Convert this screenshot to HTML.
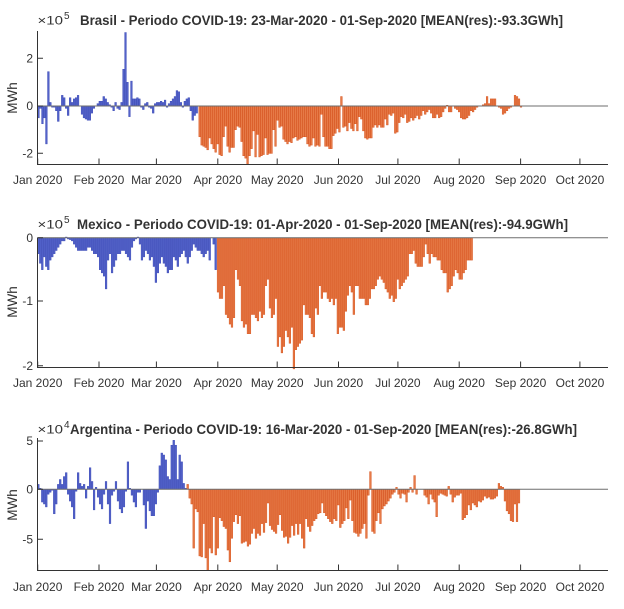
<!DOCTYPE html>
<html>
<head>
<meta charset="utf-8">
<style>
html,body{margin:0;padding:0;background:#fff;}
svg{display:block;}
text{font-family:"Liberation Sans",Arial,sans-serif;fill:#333;}
.t{font-weight:bold;font-size:13.5px;}
.tk{font-size:12px;}
.yl{font-size:13.5px;}
.ex{font-size:12px;}
.sp{font-size:10px;}
.ax{stroke:#333;stroke-width:1;fill:none;}
.zl{stroke:#6e6e6e;stroke-width:1;}
</style>
</head>
<body>
<svg id="s" width="624" height="609" viewBox="0 0 624 609" xmlns="http://www.w3.org/2000/svg">
<rect width="624" height="609" fill="#fff"/>
<g id="bars"></g>

<!-- Chart 1 -->
<line class="zl" x1="37.5" y1="106" x2="608" y2="106"/>
<path class="ax" d="M37.5,31 V164.5 H608"/>
<g class="ax" id="tk1"></g>
<text class="t" x="80" y="25" textLength="483" lengthAdjust="spacingAndGlyphs">Brasil - Periodo COVID-19: 23-Mar-2020 - 01-Sep-2020 [MEAN(res):-93.3GWh]</text>
<text class="ex" x="37.5" y="24.5" textLength="25.5" lengthAdjust="spacingAndGlyphs">×10</text><text class="sp" x="64" y="19">5</text>
<text class="tk" x="33" y="62.5" text-anchor="end">2</text>
<text class="tk" x="33" y="110" text-anchor="end">0</text>
<text class="tk" x="33" y="157.5" text-anchor="end">-2</text>
<text class="yl" transform="translate(17,98) rotate(-90)" text-anchor="middle">MWh</text>
<g class="tk" text-anchor="middle">
<text x="37.7" y="184">Jan 2020</text><text x="99" y="184">Feb 2020</text><text x="156.5" y="184">Mar 2020</text><text x="217.8" y="184">Apr 2020</text><text x="277.2" y="184">May 2020</text><text x="338.5" y="184">Jun 2020</text><text x="397.9" y="184">Jul 2020</text><text x="459.2" y="184">Aug 2020</text><text x="520.6" y="184">Sep 2020</text><text x="580" y="184">Oct 2020</text>
</g>

<!-- Chart 2 -->
<line class="zl" x1="37.5" y1="237.7" x2="608" y2="237.7"/>
<path class="ax" d="M37.5,237.7 V367.5 H608"/>
<g class="ax" id="tk2"></g>
<text class="t" x="77" y="229" textLength="491" lengthAdjust="spacingAndGlyphs">Mexico - Periodo COVID-19: 01-Apr-2020 - 01-Sep-2020 [MEAN(res):-94.9GWh]</text>
<text class="ex" x="37.5" y="228.5" textLength="25.5" lengthAdjust="spacingAndGlyphs">×10</text><text class="sp" x="64" y="223">5</text>
<text class="tk" x="33" y="242" text-anchor="end">0</text>
<text class="tk" x="33" y="305" text-anchor="end">-1</text>
<text class="tk" x="33" y="370" text-anchor="end">-2</text>
<text class="yl" transform="translate(17,302) rotate(-90)" text-anchor="middle">MWh</text>
<g class="tk" text-anchor="middle">
<text x="37.7" y="387">Jan 2020</text><text x="99" y="387">Feb 2020</text><text x="156.5" y="387">Mar 2020</text><text x="217.8" y="387">Apr 2020</text><text x="277.2" y="387">May 2020</text><text x="338.5" y="387">Jun 2020</text><text x="397.9" y="387">Jul 2020</text><text x="459.2" y="387">Aug 2020</text><text x="520.6" y="387">Sep 2020</text><text x="580" y="387">Oct 2020</text>
</g>

<!-- Chart 3 -->
<line class="zl" x1="37.5" y1="489.3" x2="608" y2="489.3"/>
<path class="ax" d="M37.5,438 V570.5 H608"/>
<g class="ax" id="tk3"></g>
<text class="t" x="70" y="434" textLength="507" lengthAdjust="spacingAndGlyphs">Argentina - Periodo COVID-19: 16-Mar-2020 - 01-Sep-2020 [MEAN(res):-26.8GWh]</text>
<text class="ex" x="37.5" y="433.5" textLength="25.5" lengthAdjust="spacingAndGlyphs">×10</text><text class="sp" x="64" y="428">4</text>
<text class="tk" x="33" y="445" text-anchor="end">5</text>
<text class="tk" x="33" y="493.5" text-anchor="end">0</text>
<text class="tk" x="33" y="543.5" text-anchor="end">-5</text>
<text class="yl" transform="translate(17,505) rotate(-90)" text-anchor="middle">MWh</text>
<g class="tk" text-anchor="middle">
<text x="37.7" y="591">Jan 2020</text><text x="99" y="591">Feb 2020</text><text x="156.5" y="591">Mar 2020</text><text x="217.8" y="591">Apr 2020</text><text x="277.2" y="591">May 2020</text><text x="338.5" y="591">Jun 2020</text><text x="397.9" y="591">Jul 2020</text><text x="459.2" y="591">Aug 2020</text><text x="520.6" y="591">Sep 2020</text><text x="580" y="591">Oct 2020</text>
</g>
</svg>
<script>
(function(){
var NS="http://www.w3.org/2000/svg";
var g=document.getElementById("bars");
var BLUE=["#5362c9","#3a49b6"],ORANGE=["#e67a47","#d6501a"];
function seg(x0,x1,vals,y0,sc,col){
  var n=vals.length,st=n>1?(x1-x0)/(n-1):0;
  for(var i=0;i<n;i++){
    var v=vals[i];if(!v)continue;
    var cx=x0+i*st,h=Math.abs(v)*sc,y=v>0?y0-h:y0;
    var r=document.createElementNS(NS,"rect");
    r.setAttribute("x",(cx-0.85).toFixed(2));r.setAttribute("width","1.7");
    r.setAttribute("y",y.toFixed(2));r.setAttribute("height",Math.max(h,0.3).toFixed(2));
    r.setAttribute("fill",col[0]);r.setAttribute("stroke",col[1]);r.setAttribute("stroke-width","0.45");
    g.appendChild(r);
  }
}
// Brasil
var bB=[-0.5,-0.1,-0.75,-0.5,-1.6,1.45,0.15,-0.05,-0.05,-0.2,-0.65,-0.2,0.45,0.35,-0.1,-0.4,0.35,0.15,0.3,0.35,0.45,0,-0.35,-0.5,-0.55,-0.6,-0.6,-0.3,-0.1,0,0.1,0.2,0.2,0.4,0.3,0.15,0.05,-0.05,-0.2,0.15,-0.1,-0.15,0.15,1.55,3.1,1.0,-0.45,1.05,0.3,0.3,0.35,0.3,-0.05,-0.15,0.1,0.15,-0.05,-0.1,-0.3,0.1,0.15,0.15,0.2,0.15,0.25,-0.05,0.1,0.2,0.3,0.4,0.65,0.6,0.15,-0.05,0.2,0.3,0.35,-0.2,-0.6,-0.4,-0.3];
var oB=[-1.3,-1.65,-1.7,-1.75,-1.85,-1.35,-1.6,-1.8,-1.95,-1.6,-2.05,-2.1,-1.3,-0.85,-1.7,-1.95,-1.75,-1.75,-1.0,-0.85,-0.9,-1.5,-2.1,-2.2,-2.45,-2.1,-1.8,-1.05,-2.15,-1.2,-2.15,-2.1,-2.05,-1.35,-2.05,-2.0,-2.0,-1.0,-1.7,-0.6,-0.9,-0.85,-1.4,-1.5,-1.6,-1.5,-1.55,-1.35,-1.3,-1.45,
-1.4,-1.35,-1.3,-1.3,-1.6,-1.7,-1.65,-1.35,-1.7,-1.65,-1.7,-0.35,-1.3,-1.7,-1.7,-1.8,-1.8,-1.25,-1.15,-0.95,-1.1,0.4,-0.9,-0.85,-1.05,-0.7,-0.95,-1.05,-0.75,-1.05,-0.45,-0.55,-1.05,-1.35,-1.4,-1.35,-1.35,-0.9,-0.8,-0.9,-0.8,-0.9,-0.9,-0.55,-0.8,-0.35,-0.4,-0.3,-1.15,-1.1,-0.7,-0.45,-0.5,-0.35,-0.7,-0.65,-0.5,-0.6,-0.5,-0.4,-0.55,-0.4,-0.2,-0.35,-0.25,-0.15,-0.3,-0.5,-0.5,-0.35,-0.5,-0.45,-0.25,-0.1,0.03,-0.25,-0.25,0,-0.1,-0.15,-0.25,-0.5,-0.55,-0.55,-0.5,-0.4,-0.2,-0.25,-0.15,-0.05,0,0,0.05,0.1,0.4,0.1,0.3,0.3,0.3,0,-0.05,-0.1,-0.35,-0.3,-0.2,-0.1,-0.05,0,0.45,0.4,0.3,-0.05];
seg(38.5,196.7,bB,106,23.7,BLUE);
seg(199.7,521,oB,106,23.7,ORANGE);
// Mexico
var bM=[-0.25,-0.4,-0.5,-0.3,-0.45,-0.5,-0.35,-0.3,-0.25,-0.2,-0.15,-0.1,-0.05,-0.05,0.01,-0.02,-0.03,-0.05,-0.1,-0.15,-0.2,-0.2,-0.2,-0.2,-0.2,-0.15,-0.15,-0.2,-0.25,-0.25,-0.3,-0.5,-0.55,-0.6,-0.8,-0.35,-0.25,-0.55,-0.45,-0.35,-0.25,-0.25,-0.2,-0.2,-0.25,-0.3,-0.35,-0.15,-0.05,-0.02,0.01,-0.1,-0.35,-0.3,-0.2,-0.25,-0.35,-0.3,-0.45,-0.7,-0.55,-0.4,-0.3,-0.4,-0.45,-0.55,-0.5,-0.5,-0.3,-0.35,-0.45,-0.3,-0.25,-0.2,-0.3,-0.4,-0.3,-0.2,-0.1,-0.15,-0.2,-0.2,-0.25,-0.3,-0.25,-0.2,-0.35,0,-0.1,-0.5];
var oM=[-0.85,-0.95,-0.95,-0.75,-1.2,-1.25,-1.35,-1.4,-1.25,-0.5,-0.65,-0.75,-1.3,-1.4,-1.35,-1.5,-1.5,-1.2,-1.2,-1.25,-1.3,-1.15,-1.25,-1.2,-0.75,-0.65,-1.1,-1.25,-1.2,-0.95,-1.7,-1.55,-1.8,-1.7,-1.45,-1.55,-1.65,-1.4,-2.05,-1.75,-1.7,
-1.65,-1.6,-1.05,-1.2,-1.2,-1.25,-1.5,-1.55,-1.1,-1.2,-0.75,-0.95,-0.85,-0.85,-0.95,-1.0,-0.95,-1.05,-0.95,-1.5,-1.4,-1.4,-1.45,-1.15,-0.9,-0.75,-0.85,-1.2,-0.75,-0.75,-0.95,-0.95,-0.95,-1.05,-1.05,-0.95,-0.8,-0.8,-0.75,-0.65,-0.6,-0.65,-0.7,-0.8,-0.85,-0.95,-0.9,-1.0,-0.95,-0.65,-0.8,-0.75,-0.7,-0.65,-0.6,-0.25,-0.25,-0.2,-0.4,-0.45,-0.45,-0.45,-0.3,-0.1,-0.25,-0.4,-0.25,-0.3,-0.3,-0.35,-0.35,-0.5,-0.55,-0.55,-0.85,-0.8,-0.75,-0.6,-0.5,-0.55,-0.65,-0.65,-0.55,-0.5,-0.35,-0.35,-0.35];
seg(38.3,215.7,bM,237.7,64,BLUE);
seg(218,471.7,oM,237.7,64,ORANGE);
// Argentina
var bA=[0.5,0.1,-1.3,-1.5,-1.8,-0.5,-0.3,-0.1,-2.5,-1.5,0.5,1.0,0.5,1.3,1.7,-0.5,-1.2,-1.8,-3.0,-0.2,1.7,0.6,0.3,0.5,-0.9,0.3,2.2,0.8,-2.1,0.2,-0.8,-1.5,-2.0,-0.5,0.8,-1.5,-3.5,-0.6,-0.2,0.8,-1.2,-2.0,-2.4,-1.8,-0.2,2.8,0.1,-0.6,-1.3,-1.8,-0.3,-0.3,0,-1.6,-4.0,-1.2,-2.2,-2.7,-2.7,-1.5,-0.3,2.4,3.7,3.5,3.0,1.3,1.0,4.5,5.0,4.5,1.0,3.5,2.8,0.6,0.1];
var oA=[0.5,-0.9,-1.5,-6.0,-2.0,-2.3,-6.8,-6.9,-3.5,-7.0,-8.3,-6.0,-6.5,-2.8,-6.7,-6.0,-2.9,-3.2,-3.8,-4.0,-6.2,-7.4,-5.0,-3.3,-2.6,-3.5,-2.7,-5.5,-5.4,-5.3,-5.8,-5.6,-4.5,-4.0,-5.0,-4.5,-4.7,-3.5,-4.4,-3.4,-1.4,-3.7,-4.1,-4.3,-4.5,-3.6,-2.6,-4.2,-4.9,-4.8,-5.5,-4.9,-3.7,-4.7,-3.5,-4.6,
-3.5,-5.0,-6.0,-3.0,-3.8,-4.3,-3.7,-3.2,-3.0,-2.5,-2.4,-1.4,-2.4,-2.7,-3.0,-3.3,-3.5,-3.0,-3.2,-1.6,-3.9,-3.5,-3.2,-1.9,-3.0,-1.1,-3.2,-4.4,-4.5,-4.8,-4.5,-4.0,-3.5,-5.0,-0.6,1.8,-4.3,-4.5,-3.2,-2.4,-3.5,-2.0,-1.7,-1.5,-1.2,-0.9,-0.5,-0.3,0.2,-0.5,-0.9,-0.4,-0.5,-1.3,-0.3,0.2,-0.3,1.4,-0.5,0,0,0,-0.6,-0.8,-1.5,-0.5,-1.0,-1.3,-2.8,-0.6,-0.4,-0.5,-0.6,-0.7,0.3,-0.5,-1.3,-0.8,-0.6,-0.6,-0.4,-3.1,-2.9,-2.6,-1.6,-2.1,-1.4,-1.6,-1.8,-1.2,-1.3,-1.1,-0.7,-0.9,-0.8,-1.0,-1.0,-0.9,-0.7,0.6,0.3,0.2,-1.2,-2.2,-2.5,-3.2,-3.3,-1.5,-3.3,-1.4];
seg(38.3,185.7,bA,489.3,9.8,BLUE);
seg(187.7,519,oA,489.3,9.8,ORANGE);
// ticks
var days=[0,31,60,91,121,152,182,213,244,274];
function ticks(id,yb,yt){
  var t=document.getElementById(id),d="";
  days.forEach(function(dd){var x=37.7+dd*1.979;d+="M"+x.toFixed(1)+","+yb+"V"+(yb-6);});
  yt.forEach(function(y){d+="M37.5,"+y+"H43";});
  var p=document.createElementNS(NS,"path");p.setAttribute("d",d);t.appendChild(p);
}
ticks("tk1",164.5,[58.3,106,153.3]);
ticks("tk2",367.5,[237.7,301,365.7]);
ticks("tk3",570.5,[441,489.3,539.3]);
})();
</script>
</body>
</html>
